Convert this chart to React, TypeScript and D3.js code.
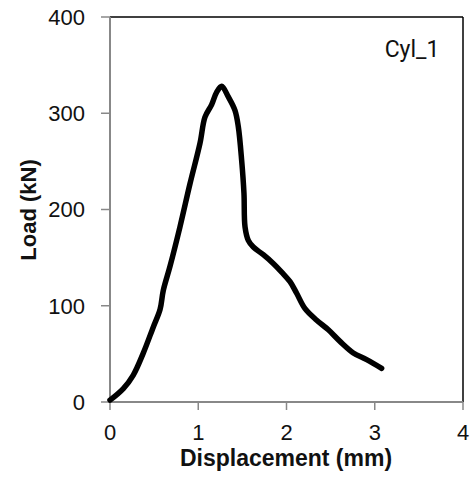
import React from "react";
import * as d3 from "d3";

const displacement = [0, 0.151, 0.264, 0.378, 0.491, 0.567, 0.604, 0.68, 0.793, 0.907, 1.02, 1.076, 1.152, 1.209, 1.265, 1.341, 1.416, 1.454, 1.492, 1.518, 1.53, 1.567, 1.624, 1.737, 1.85, 1.945, 2.04, 2.115, 2.21, 2.342, 2.474, 2.606, 2.757, 2.908, 3.078];
const load = [2, 14, 28, 51, 78, 96, 116, 141, 182, 227, 269, 296, 309, 322, 328, 317, 303, 286, 251, 217, 182, 168, 161, 153, 144, 135, 125, 113, 97, 85, 75, 63, 51, 44, 35];
const xTicks = [0, 1, 2, 3, 4];
const yTicks = [0, 100, 200, 300, 400];
const label = "Cyl_1";
const xTitle = "Displacement (mm)";
const yTitle = "Load (kN)";

export default function App() {
  const W = 473, H = 477;
  const x = d3.scaleLinear().domain([0, 4]).range([110, 463]);
  const y = d3.scaleLinear().domain([0, 400]).range([402, 17]);
  const pts = displacement.map((d, i) => [d, load[i]] as [number, number]);
  const line = d3.line<[number, number]>().x(d => x(d[0])).y(d => y(d[1])).curve(d3.curveCatmullRom);
  const font = "'Liberation Sans', Arial, sans-serif";
  const gray = "#888888";
  return (
    <svg width={W} height={H} style={{ position: "absolute", left: 0, top: 0 }}>
      <rect width={W} height={H} fill="#fff" />
      <line x1={x(0)} x2={x(4)} y1={y(400)} y2={y(400)} stroke="#000" strokeWidth={1.5} />
      <line x1={x(4)} x2={x(4)} y1={y(400)} y2={y(0)} stroke="#000" strokeWidth={1.5} />
      <line x1={x(0)} x2={x(0)} y1={y(400)} y2={y(0)} stroke={gray} strokeWidth={2} />
      <line x1={x(0)} x2={x(4)} y1={y(0)} y2={y(0)} stroke={gray} strokeWidth={2} />
      {yTicks.map(t => (
        <g key={"y" + t}>
          <line x1={x(0) - 9} x2={x(0)} y1={y(t)} y2={y(t)} stroke={gray} strokeWidth={1.5} />
          <text x={85} y={y(t)} dy="0.36em" textAnchor="end" fontFamily={font} fontSize={22} fill="#111">{t}</text>
        </g>
      ))}
      {xTicks.map(t => (
        <g key={"x" + t}>
          <line x1={x(t)} x2={x(t)} y1={y(0)} y2={y(0) + 8} stroke={gray} strokeWidth={1.5} />
          <text x={x(t)} y={440} textAnchor="middle" fontFamily={font} fontSize={22} fill="#111">{t}</text>
        </g>
      ))}
      <path d={line(pts) || ""} fill="none" stroke="#000" strokeWidth={5.5} strokeLinejoin="round" strokeLinecap="round" />
      <text x={412} y={57} textAnchor="middle" fontFamily="Roboto, sans-serif" fontSize={23} fill="#111">{label}</text>
      <text x={286} y={466} textAnchor="middle" fontFamily={font} fontWeight="bold" fontSize={23} fill="#111">{xTitle}</text>
      <text transform={`translate(36,210) rotate(-90)`} textAnchor="middle" fontFamily={font} fontWeight="bold" fontSize={22} fill="#111">{yTitle}</text>
    </svg>
  );
}
